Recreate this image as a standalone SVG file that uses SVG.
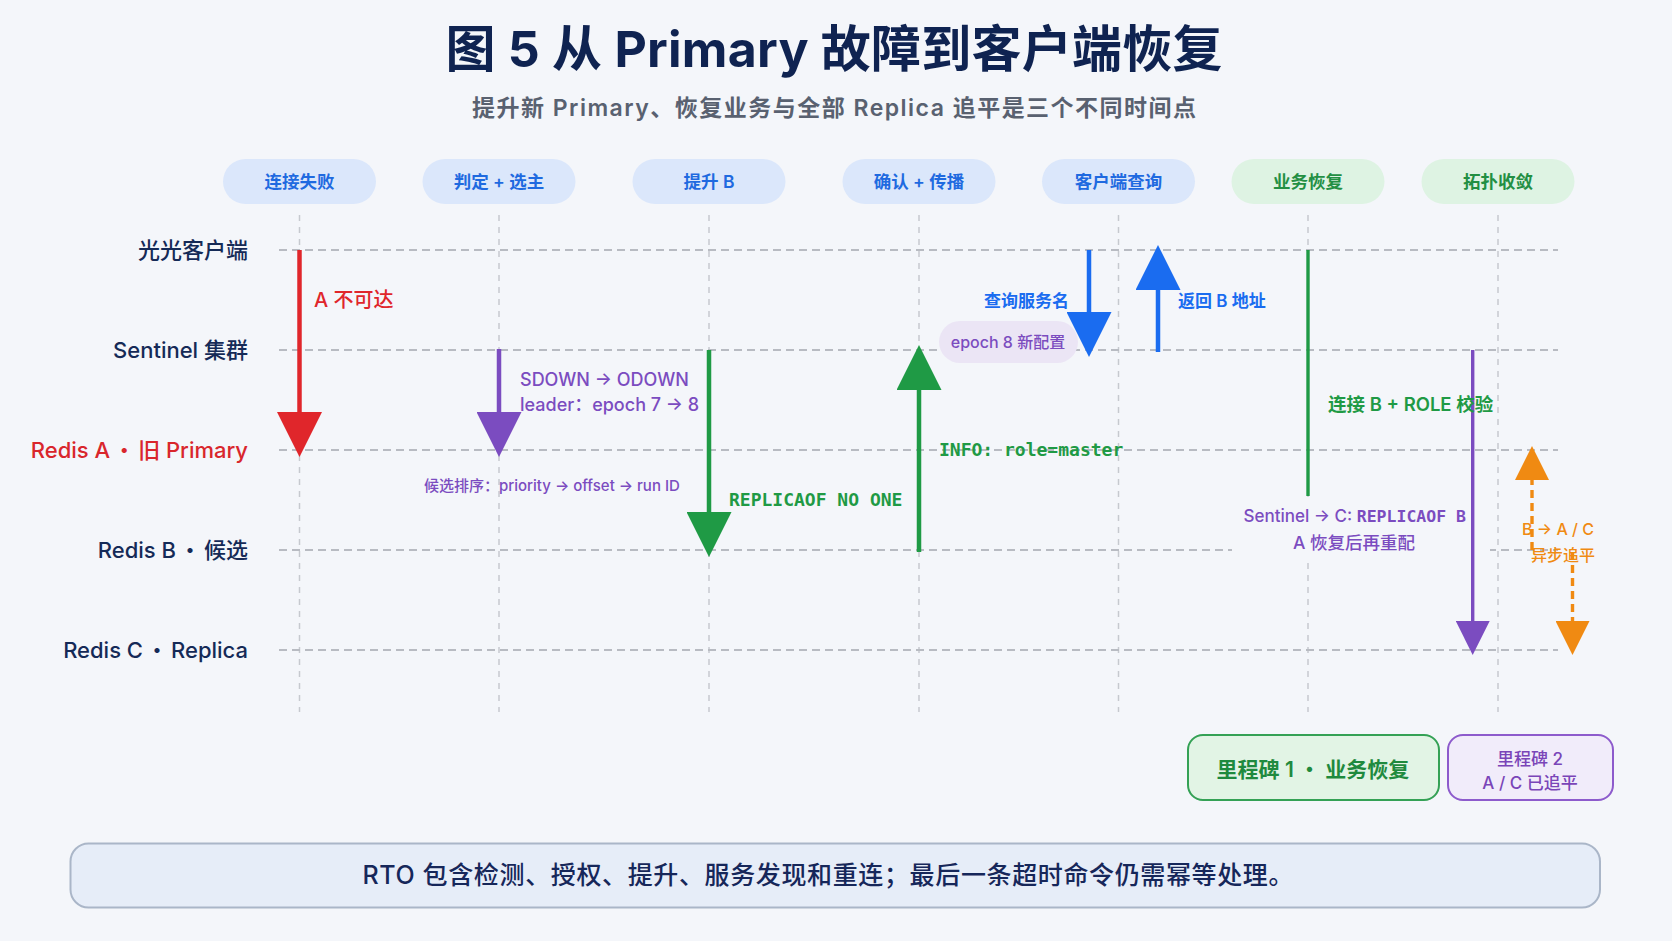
<svg xmlns="http://www.w3.org/2000/svg" width="1672" height="941" viewBox="0 0 1672 941">
<style>
text{font-family:Inter,"Noto Sans CJK SC",sans-serif}
.title{font-size:50px;font-weight:700;fill:#0f2351}
.sub{font-size:23px;font-weight:600;fill:#596170}
.lane{font-size:22px;font-weight:500;fill:#152a57;text-anchor:end}
.dot{font-family:"Noto Sans CJK SC",sans-serif}
.phase{font-size:17.5px;font-weight:600;text-anchor:middle}
.pb{fill:#dbe7fb}.pbt{fill:#1f6ae0}
.pg{fill:#def3e3}.pgt{fill:#238f43}
.laneline{stroke:#b8bbc2;stroke-width:2;stroke-dasharray:8 5;fill:none}
.col{stroke:#c6c9cf;stroke-width:1.5;stroke-dasharray:6 6;fill:none}
.mono{font-family:"DejaVu Sans Mono","Liberation Mono",monospace;font-weight:700}
.lbl{font-size:18px;font-weight:500}
.arr{fill:none}
</style>
<defs>
<marker id="hr" viewBox="0 0 10 10" refX="0" refY="5" markerWidth="10" markerHeight="10" markerUnits="strokeWidth" orient="auto"><path d="M0,0L10,5L0,10z" fill="#e0262b"/></marker>
<marker id="hp" viewBox="0 0 10 10" refX="0" refY="5" markerWidth="10" markerHeight="10" markerUnits="strokeWidth" orient="auto"><path d="M0,0L10,5L0,10z" fill="#7b4cc0"/></marker>
<marker id="hg" viewBox="0 0 10 10" refX="0" refY="5" markerWidth="10" markerHeight="10" markerUnits="strokeWidth" orient="auto"><path d="M0,0L10,5L0,10z" fill="#1f9a45"/></marker>
<marker id="hb" viewBox="0 0 10 10" refX="0" refY="5" markerWidth="10" markerHeight="10" markerUnits="strokeWidth" orient="auto"><path d="M0,0L10,5L0,10z" fill="#1a6cf0"/></marker>
<marker id="ho" viewBox="0 0 10 10" refX="0" refY="5" markerWidth="10" markerHeight="10" markerUnits="strokeWidth" orient="auto"><path d="M0,0L10,5L0,10z" fill="#f08a12"/></marker>
</defs>
<rect width="1672" height="941" fill="#f4f6fa"/>

<g id="title">
<text class="title" x="834" y="67" text-anchor="middle" textLength="777" lengthAdjust="spacing">图 5 从 Primary 故障到客户端恢复</text>
<text class="sub" x="834" y="116" text-anchor="middle" textLength="724" lengthAdjust="spacing">提升新 Primary、恢复业务与全部 Replica 追平是三个不同时间点</text>
</g>

<g id="phases">
<g id="phase-1"><rect class="pb" x="223" y="159" width="153" height="45" rx="22.5"/><text class="phase pbt" x="299.5" y="188">连接失败</text></g>
<g id="phase-2"><rect class="pb" x="422.5" y="159" width="153" height="45" rx="22.5"/><text class="phase pbt" x="499" y="188">判定 + 选主</text></g>
<g id="phase-3"><rect class="pb" x="632.5" y="159" width="153" height="45" rx="22.5"/><text class="phase pbt" x="709" y="188">提升 B</text></g>
<g id="phase-4"><rect class="pb" x="842.5" y="159" width="153" height="45" rx="22.5"/><text class="phase pbt" x="919" y="188">确认 + 传播</text></g>
<g id="phase-5"><rect class="pb" x="1042" y="159" width="153" height="45" rx="22.5"/><text class="phase pbt" x="1118.5" y="188">客户端查询</text></g>
<g id="phase-6"><rect class="pg" x="1231.5" y="159" width="153" height="45" rx="22.5"/><text class="phase pgt" x="1308" y="188">业务恢复</text></g>
<g id="phase-7"><rect class="pg" x="1421.5" y="159" width="153" height="45" rx="22.5"/><text class="phase pgt" x="1498" y="188">拓扑收敛</text></g>
</g>

<g id="grid">
<path class="col" d="M299.5,215V712M499,215V712M709,215V712M919,215V712M1118.5,215V712M1308,215V712M1498,215V712"/>
<path class="laneline" d="M279,250H1558M279,350H1558M279,450H1558M279,550H1558M279,650H1558"/>
</g>

<g id="lanes">
<g id="lane-client"><text class="lane" x="248" y="258">光光客户端</text></g>
<g id="lane-sentinel"><text class="lane" x="248" y="358">Sentinel 集群</text></g>
<g id="lane-a"><text class="lane" x="248" y="458" style="fill:#d9262c">Redis A<tspan class="dot" dx="3">・</tspan><tspan dx="3">旧 Primary</tspan></text></g>
<g id="lane-b"><text class="lane" x="248" y="558">Redis B<tspan class="dot" dx="3">・</tspan><tspan dx="3">候选</tspan></text></g>
<g id="lane-c"><text class="lane" x="248" y="658">Redis C<tspan class="dot" dx="3">・</tspan><tspan dx="3">Replica</tspan></text></g>
</g>

<g id="epoch-pill">
<rect x="939" y="321" width="139" height="42" rx="21" fill="#ebe5f5"/>
<text x="1008" y="348" text-anchor="middle" font-size="16" font-weight="500" fill="#7b4cbf">epoch 8 新配置</text>
</g>

<g id="label-bg"><rect x="1232" y="500" width="258" height="60" fill="#f4f6fa"/></g>

<g id="connectors">
<path class="arr" d="M299.5,250V412" stroke="#e0262b" stroke-width="4.5" marker-end="url(#hr)"/>
<path class="arr" d="M499,349V412" stroke="#7b4cc0" stroke-width="4.5" marker-end="url(#hp)"/>
<path class="arr" d="M709,350V512" stroke="#1f9a45" stroke-width="4.5" marker-end="url(#hg)"/>
<path class="arr" d="M919,552V390" stroke="#1f9a45" stroke-width="4.5" marker-end="url(#hg)"/>
<path class="arr" d="M1089,250V312" stroke="#1a6cf0" stroke-width="4.5" marker-end="url(#hb)"/>
<path class="arr" d="M1158,352V290" stroke="#1a6cf0" stroke-width="4.5" marker-end="url(#hb)"/>
<path class="arr" d="M1308,250V496" stroke="#1f9a45" stroke-width="3.4"/>
<path class="arr" d="M1472.7,350V621" stroke="#7b4cc0" stroke-width="3.4" marker-end="url(#hp)"/>
<path class="arr" d="M1532,550V480" stroke="#f08a12" stroke-width="3.4" stroke-dasharray="8 5" marker-end="url(#ho)"/>
<path class="arr" d="M1572.5,552V621" stroke="#f08a12" stroke-width="3.4" stroke-dasharray="8 5" marker-end="url(#ho)"/>
</g>

<g id="labels">
<text x="314" y="307" font-size="20" font-weight="500" fill="#e0262b">A 不可达</text>
<text class="lbl" x="520" y="386" fill="#7b4cc0">SDOWN → ODOWN</text>
<text class="lbl" x="520" y="411" fill="#7b4cc0">leader：epoch 7 → 8</text>
<text x="424" y="491" font-size="15" font-weight="500" fill="#7b4cc0">候选排序：priority → offset → run ID</text>
<text class="mono" x="729" y="506" font-size="18" fill="#1f9a45">REPLICAOF NO ONE</text>
<text class="mono" x="939" y="456" font-size="18" fill="#1f9a45">INFO: role=master</text>
<text x="1069" y="307" text-anchor="end" font-size="17" font-weight="600" fill="#1a6cf0">查询服务名</text>
<text x="1178" y="307" font-size="17" font-weight="600" fill="#1a6cf0">返回 B 地址</text>
<text x="1328" y="411" font-size="18.5" font-weight="600" fill="#1f9a45">连接 B + ROLE 校验</text>
<text x="1466" y="522" text-anchor="end" font-size="17" font-weight="500" fill="#7b4cc0">Sentinel → C: <tspan class="mono" font-size="16.5">REPLICAOF B</tspan></text>
<text x="1354" y="549" text-anchor="middle" font-size="17.5" font-weight="500" fill="#7b4cc0">A 恢复后再重配</text>
<text x="1558" y="535" text-anchor="middle" font-size="16" font-weight="500" fill="#f08a12">B → A / C</text>
<text x="1563" y="561" text-anchor="middle" font-size="16" font-weight="500" fill="#f08a12">异步追平</text>
</g>

<g id="milestone-1">
<rect x="1188" y="735" width="251" height="65" rx="15" fill="#e2f4e5" stroke="#34a155" stroke-width="2"/>
<text x="1313" y="777" text-anchor="middle" font-size="21" font-weight="600" fill="#1f8a3e">里程碑 1 <tspan class="dot">・</tspan> 业务恢复</text>
</g>
<g id="milestone-2">
<rect x="1448" y="735" width="165" height="65" rx="15" fill="#f1ecfa" stroke="#8d5bcc" stroke-width="2"/>
<text x="1530" y="765" text-anchor="middle" font-size="17" font-weight="500" fill="#7a45b8">里程碑 2</text>
<text x="1530" y="789" text-anchor="middle" font-size="17" font-weight="500" fill="#7a45b8">A / C 已追平</text>
</g>

<g id="note">
<rect x="70.5" y="843.5" width="1529.5" height="64" rx="18" fill="#e6edf8" stroke="#aab6c8" stroke-width="2"/>
<text x="828" y="884" text-anchor="middle" font-size="25" font-weight="500" fill="#16275a" textLength="931" lengthAdjust="spacing">RTO 包含检测、授权、提升、服务发现和重连；最后一条超时命令仍需幂等处理。</text>
</g>
</svg>
